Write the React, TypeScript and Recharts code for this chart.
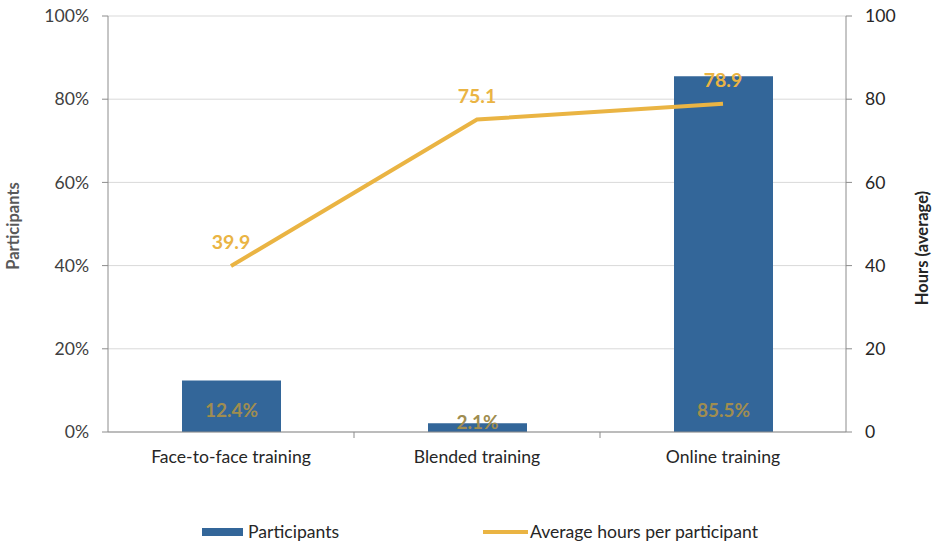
import { ComposedChart, Bar, Line, XAxis, YAxis, CartesianGrid, Legend, LabelList } from "recharts";

const categories = ["Face-to-face training", "Blended training", "Online training"];
const participantsPct = [12.4, 2.1, 85.5];
const avgHours = [39.9, 75.1, 78.9];
const pctTicks = [0, 20, 40, 60, 80, 100];
const hourTicks = [0, 20, 40, 60, 80, 100];

const data = categories.map((name, i) => ({
  name,
  participants: participantsPct[i],
  hours: avgHours[i],
}));

const W = 934;
const H = 543;
const LEFT_W = 108;
const RIGHT_W = 88;
const BAND = (W - LEFT_W - RIGHT_W) / categories.length;

const FONT = "Lato, 'Open Sans', sans-serif";
const FS = 17.6;
const BLUE = "#336699";
const GOLD = "#EAB443";
const OLIVE = "#A08D50";
const AXIS = "#8c8c8c";

const XTick = (props: any) => {
  const { x, y, payload, index } = props;
  return (
    <g>
      <text x={x} y={y + 31} textAnchor="middle" fill="#262626" fontSize={FS} fontFamily={FONT}>
        {payload.value}
      </text>
      {index < categories.length - 1 && (
        <line x1={x + BAND / 2} x2={x + BAND / 2} y1={y} y2={y + 6} stroke={AXIS} />
      )}
    </g>
  );
};

const barLabel = (p: any) => {
  const { x, y, width, height, value } = p;
  const bottom = y + height;
  const cy = Math.min(Math.max(y + height / 2, bottom - 22), bottom - 10);
  return (
    <text x={x + width / 2} y={cy} dy={7} textAnchor="middle" fill={OLIVE} fontSize={19} fontWeight="bold" fontFamily={FONT}>
      {`${value.toFixed(1)}%`}
    </text>
  );
};

const axisTitle = (text: string, side: "left" | "right") => (p: any) => {
  const vb = p.viewBox;
  const cx = side === "left" ? 19 : W - 6;
  const cy = side === "left" ? vb.y + vb.height / 2 + 2 : vb.y + vb.height / 2 + 24;
  return (
    <text
      x={cx}
      y={cy}
      transform={`rotate(-90, ${cx}, ${cy})`}
      textAnchor="middle"
      fill={side === "left" ? "#595959" : "#262626"}
      fontSize={16.5}
      fontWeight="bold"
      fontFamily={FONT}
    >
      {text}
    </text>
  );
};

const legendContent = () => (
  <div style={{ position: "relative", height: 26, fontFamily: FONT, fontSize: FS, color: "#262626", lineHeight: "21px" }}>
    <div style={{ position: "absolute", left: 202, top: 11, width: 41, height: 8, background: BLUE }} />
    <span style={{ position: "absolute", left: 248, top: 4 }}>Participants</span>
    <div style={{ position: "absolute", left: 483, top: 13, width: 45, height: 4, background: GOLD }} />
    <span style={{ position: "absolute", left: 530, top: 4 }}>Average hours per participant</span>
  </div>
);

export default function App() {
  return (
    <div style={{ position: "absolute", left: 0, top: 0, background: "#fff" }}>
      <ComposedChart width={W} height={H} data={data} margin={{ top: 16, right: 0, bottom: 0, left: 0 }}>
        <CartesianGrid yAxisId="left" vertical={false} stroke="#d9d9d9" />
        <XAxis
          dataKey="name"
          height={85}
          tick={<XTick />}
          tickLine={false}
          tickSize={0}
          tickMargin={0}
          axisLine={{ stroke: AXIS }}
          interval={0}
        />
        <YAxis
          yAxisId="left"
          width={LEFT_W}
          domain={[0, 100]}
          ticks={pctTicks}
          tickFormatter={(v: number) => `${v}%`}
          tick={{ fill: "#404040", fontSize: FS, fontFamily: FONT }}
          tickSize={6}
          tickMargin={13}
          axisLine={{ stroke: AXIS }}
          tickLine={{ stroke: AXIS }}
          label={{ content: axisTitle("Participants", "left") }}
        />
        <YAxis
          yAxisId="right"
          orientation="right"
          width={RIGHT_W}
          domain={[0, 100]}
          ticks={hourTicks}
          tick={{ fill: "#262626", fontSize: FS, fontFamily: FONT }}
          tickSize={6}
          tickMargin={13}
          axisLine={{ stroke: AXIS }}
          tickLine={{ stroke: AXIS }}
          label={{ content: axisTitle("Hours (average)", "right") }}
        />
        <Legend verticalAlign="bottom" content={legendContent} wrapperStyle={{ left: 0, width: W }} />
        <Bar yAxisId="left" dataKey="participants" name="Participants" fill={BLUE} barSize={99} isAnimationActive={false}>
          <LabelList dataKey="participants" content={barLabel} />
        </Bar>
        <Line
          yAxisId="right"
          dataKey="hours"
          name="Average hours per participant"
          stroke={GOLD}
          strokeWidth={4}
          dot={false}
          isAnimationActive={false}
        >
          <LabelList dataKey="hours" position="top" offset={17} fill={GOLD} fontSize={19.5} fontWeight="bold" fontFamily={FONT} />
        </Line>
      </ComposedChart>
    </div>
  );
}
